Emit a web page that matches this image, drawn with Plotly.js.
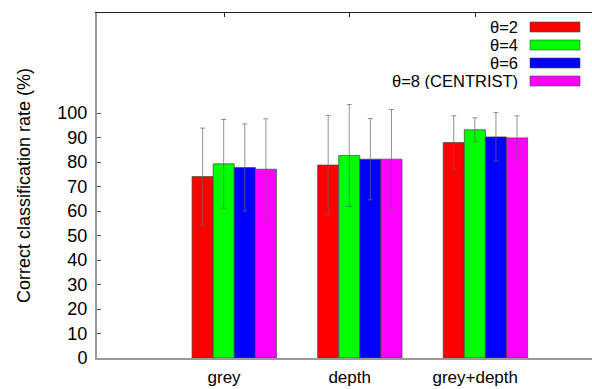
<!DOCTYPE html>
<html>
<head>
<meta charset="utf-8">
<script src="https://cdn.plot.ly/plotly-3.0.1.min.js"></script>
<style>html,body{margin:0;padding:0;overflow:hidden;background:#fff}#chart{width:592px;height:389px}</style>
</head>
<body>
<div id="chart"></div>
<script>
// ---- data ----
const categories = ["grey", "depth", "grey+depth"];
const seriesNames = ["θ=2", "θ=4", "θ=6", "θ=8 (CENTRIST)"];
const theta2 = [74.1, 78.8, 88.0];
const theta4 = [79.3, 82.7, 93.2];
const theta6 = [77.8, 81.2, 90.3];
const theta8 = [77.1, 81.2, 89.9];
const theta2Err = [19.8, 20.3, 10.9];
const theta4Err = [18.1, 20.8, 4.9];
const theta6Err = [17.8, 16.6, 9.9];
const theta8Err = [20.6, 20.3, 9.0];
const yTickVals = [0, 10, 20, 30, 40, 50, 60, 70, 80, 90, 100];

// ---- styles ----
const colors = ["#ff0000", "#00ff00", "#0000ff", "#ff00ff"];
const W = 592, H = 389;
const M = {l: 97, r: 0, t: 13, b: 31};
const barW = 0.168, groupStart = -0.255;
const FONT = "Liberation Sans, Arial, sans-serif";

const values = [theta2, theta4, theta6, theta8];
const errs = [theta2Err, theta4Err, theta6Err, theta8Err];
const xIdx = categories.map((c, i) => i);

const traces = values.map((v, k) => ({
  type: "bar",
  x: xIdx,
  y: v,
  name: seriesNames[k],
  width: barW,
  offset: groupStart + k * barW,
  marker: {color: colors[k], line: {color: "rgba(70,70,70,0.7)", width: 1}},
  error_y: {type: "data", array: errs[k], visible: true, color: "rgba(100,100,100,0.7)", thickness: 1, width: 2.5},
  showlegend: false,
  hoverinfo: "skip"
}));
// invisible trace to carry the top mirror axis
traces.push({type: "scatter", x: [xIdx[0]], y: [null], xaxis: "x2", yaxis: "y", mode: "markers", showlegend: false, hoverinfo: "skip"});

// legend built by hand (text left of the swatch)
const plotW = W - M.l - M.r, plotH = H - M.t - M.b;
const pxX = p => (p - M.l) / plotW;
const pxY = p => (H - M.b - p) / plotH;
const annotations = [], shapes = [];
seriesNames.forEach((n, k) => {
  const yc = 27 + k * 18;
  annotations.push({xref: "paper", yref: "paper", x: pxX(519), y: pxY(yc), xanchor: "right", yanchor: "middle",
    text: n, showarrow: false, height: 16, borderpad: 0, valign: "middle",
    font: {family: FONT, size: 16.5, color: "#000"}});
  shapes.push({type: "rect", xref: "paper", yref: "paper", x0: pxX(530), x1: pxX(580), y0: pxY(yc + 5), y1: pxY(yc - 5),
    fillcolor: colors[k], line: {color: "rgba(70,70,70,0.6)", width: 1}});
});

const xRange = [-1.012, 2.93];
const layout = {
  width: W, height: H,
  margin: M,
  paper_bgcolor: "#fff", plot_bgcolor: "#fff",
  font: {family: FONT, size: 18, color: "#000"},
  barmode: "overlay",
  showlegend: false,
  xaxis: {
    range: xRange, tickvals: xIdx, ticktext: categories,
    showgrid: false, zeroline: false, showline: true, linecolor: "#9a9a9a", linewidth: 2,
    ticks: "", ticklabelstandoff: 3, tickfont: {family: FONT, size: 17, color: "#000"}
  },
  xaxis2: {
    overlaying: "x", side: "top", range: xRange, tickvals: xIdx, showticklabels: false,
    showgrid: false, zeroline: false, showline: true, linecolor: "#222", linewidth: 1,
    ticks: "inside", ticklen: 4, tickcolor: "#222", tickwidth: 1
  },
  yaxis: {
    range: [0, 140.9], tickvals: yTickVals,
    showgrid: false, zeroline: false, showline: true, linecolor: "#9a9a9a", linewidth: 2,
    ticks: "inside", ticklen: 4, tickcolor: "#555", tickwidth: 1,
    ticklabelstandoff: 4, tickfont: {family: FONT, size: 18, color: "#000"},
    title: {text: "Correct classification rate (%)", standoff: 22, font: {family: FONT, size: 18, color: "#000"}}
  },
  annotations: annotations,
  shapes: shapes
};

Plotly.newPlot("chart", traces, layout, {staticPlot: true, displayModeBar: false});
</script>
</body>
</html>
